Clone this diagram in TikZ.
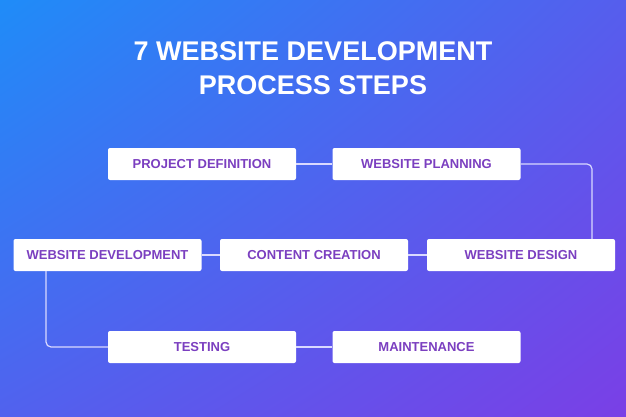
\documentclass[tikz,border=0pt]{standalone}
\usepackage{fontspec}
\setmainfont{Liberation Sans}
\usetikzlibrary{shadings}
\begin{document}
\begin{tikzpicture}[x=1pt,y=-1pt,
  box/.style={fill=white,rounded corners=2pt,minimum width=188pt,minimum height=32pt,inner sep=0pt,text=txt,font=\bfseries\fontsize{13}{15}\selectfont},
  link/.style={draw=white!85!blue,line width=1.2pt,rounded corners=5pt}]
\definecolor{c1}{HTML}{1F8CF8}\definecolor{c2}{HTML}{7A3FE6}\definecolor{txt}{HTML}{7B3FC0}
\shade[upper left=c1,upper right=c2!60!c1,lower left=c2!55!c1,lower right=c2] (0,0) rectangle (626,417);
\path[use as bounding box] (0,0) rectangle (626,417);
\node[text=white,font=\bfseries\fontsize{27}{34}\selectfont,align=center] (title) at (313,68) {7 WEBSITE DEVELOPMENT\\PROCESS STEPS};
\node[box] (pd) at (202,164) {PROJECT DEFINITION};
\node[box] (wp) at (426.5,164) {WEBSITE PLANNING};
\node[box] (dev) at (107.5,255) {WEBSITE DEVELOPMENT};
\node[box] (cc) at (314,255) {CONTENT CREATION};
\node[box] (wd) at (521,255) {WEBSITE DESIGN};
\node[box] (te) at (202,347) {TESTING};
\node[box] (ma) at (426.5,347) {MAINTENANCE};
\coordinate (c1) at (592,164);
\coordinate (c2) at (46,347);
\draw[link] (pd) -- (wp);
\draw[link] (wp.east) -- (c1) -- (c1 |- wd.north);
\draw[link] (wd) -- (cc);
\draw[link] (cc) -- (dev);
\draw[link] (dev.south -| c2) -- (c2) -- (te.west);
\draw[link] (te) -- (ma);
\end{tikzpicture}
\end{document}
